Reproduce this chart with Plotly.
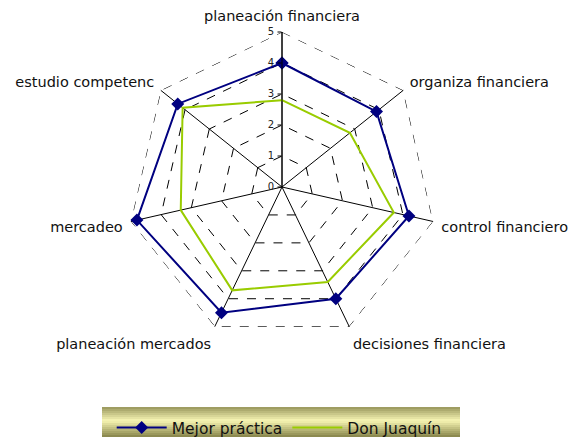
import plotly.graph_objects as go

# categorias del radar, en sentido horario desde arriba
categorias = ['planeación financiera', 'organiza financiera', 'control financiero',
              'decisiones financiera', 'planeación mercados', 'mercadeo', 'estudio competenc']
mejor_practica = [4.0, 3.9, 4.2, 4.0, 4.5, 4.8, 4.3]
don_juaquin = [2.8, 2.8, 3.7, 3.4, 3.7, 3.35, 4.1]
ticks_radio = [0, 1, 2, 3, 4, 5]

W, H = 577, 438
OFF = 8  # margen del body de la pagina

def cerrar(v):
    return v + v[:1]

fig = go.Figure()
# contorno exterior discontinuo (r = maximo)
fig.add_trace(go.Scatterpolar(r=cerrar([ticks_radio[-1]] * len(categorias)), theta=cerrar(categorias),
                              mode='lines', line=dict(color='black', width=1, dash='dash'),
                              showlegend=False, hoverinfo='skip'))
fig.add_trace(go.Scatterpolar(r=cerrar(mejor_practica), theta=cerrar(categorias),
                              name='Mejor práctica', mode='lines+markers',
                              line=dict(color='#000080', width=2),
                              marker=dict(symbol='diamond', size=10, color='#000080')))
fig.add_trace(go.Scatterpolar(r=cerrar(don_juaquin), theta=cerrar(categorias),
                              name='Don Juaquín', mode='lines',
                              line=dict(color='#99cc00', width=2)))

# fondo degradado de la leyenda (franjas)
x0, x1 = (102 - OFF) / W, (460 - OFF) / W
top, bot = 407 - OFF, 437 - OFF
n = 15
for i in range(n):
    t = i / (n - 1)
    k = 1 - abs(t - 0.45) / 0.55
    k = max(0, min(1, k))
    r = int(140 + (248 - 140) * k)
    g = int(138 + (246 - 138) * k)
    b = int(80 + (180 - 80) * k)
    ya = top + (bot - top) * i / n
    yb = top + (bot - top) * (i + 1) / n
    fig.add_shape(type='rect', xref='paper', yref='paper', layer='below',
                  x0=x0, x1=x1, y0=1 - yb / H, y1=1 - ya / H,
                  line=dict(width=0), fillcolor=f'rgb({r},{g},{b})')

cx, cy, rad = 274, 179, 155
fig.update_layout(
    width=W, height=H,
    margin=dict(l=0, r=0, t=0, b=0),
    paper_bgcolor='white', plot_bgcolor='white',
    font=dict(family='DejaVu Sans', size=12, color='black'),
    polar=dict(
        domain=dict(x=[(cx - rad) / W, (cx + rad) / W], y=[1 - (cy + rad) / H, 1 - (cy - rad) / H]),
        bgcolor='white',
        gridshape='linear',
        radialaxis=dict(range=[0, 5], tickvals=ticks_radio, angle=90, tickangle=90,
                        side='counterclockwise',
                        showline=True, linecolor='black', linewidth=1,
                        gridcolor='black', griddash='dash', gridwidth=1,
                        ticks='outside', ticklen=4, tickcolor='black',
                        tickfont=dict(size=10, color='#222')),
        angularaxis=dict(rotation=90, direction='clockwise', showline=False,
                         gridcolor='black', gridwidth=1,
                         ticks='outside', ticklen=5, tickcolor='rgba(0,0,0,0)',
                         tickfont=dict(size=14.5, color='#111')),
    ),
    showlegend=True,
    legend=dict(orientation='h', x=0.47, xanchor='center', y=1 - 420 / H, yanchor='middle',
                bgcolor='rgba(0,0,0,0)', font=dict(size=15.5, color='#111'),
                itemwidth=50, tracegroupgap=0),
)

fig.write_html('out.html')
